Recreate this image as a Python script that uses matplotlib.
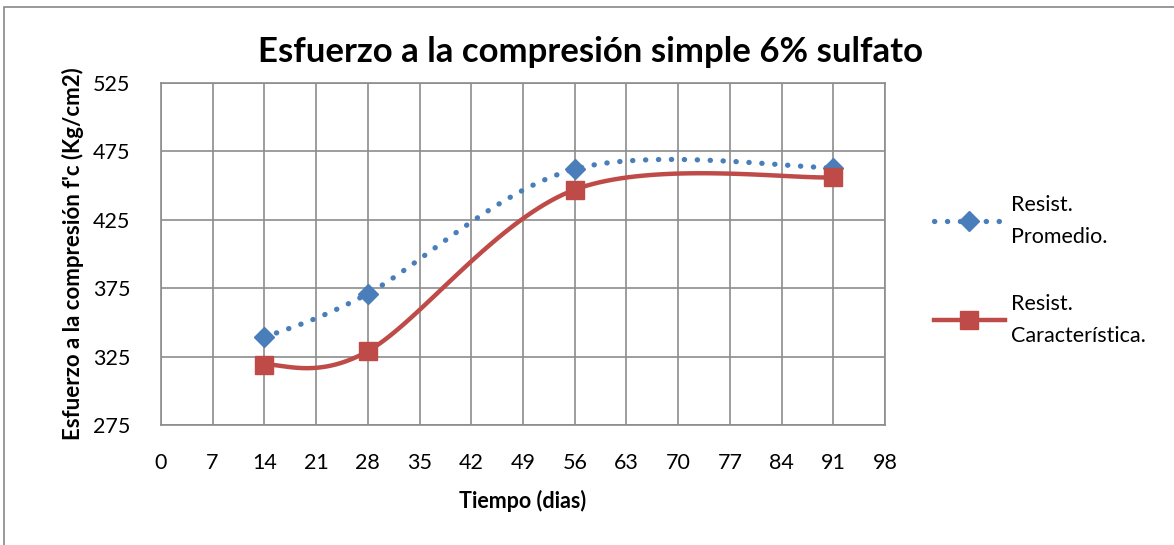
import numpy as np
import matplotlib.pyplot as plt
from matplotlib.patches import Rectangle

plt.rcParams['font.family'] = ['Lato', 'DejaVu Sans']

dias = [14, 28, 56, 91]
promedio = [339, 371, 462, 463]
caracteristica = [319, 329, 447, 456]
xticks = list(range(0, 99, 7))
yticks = [275, 325, 375, 425, 475, 525]


def smooth(xs, ys, n=40):
    # parametric Catmull-Rom, similar to Excel's smoothed lines
    p = np.column_stack([xs, ys]).astype(float)
    p = np.vstack([p[0], p, p[-1]])
    out = []
    for i in range(1, len(p) - 2):
        p0, p1, p2, p3 = p[i - 1], p[i], p[i + 1], p[i + 2]
        c1 = p1 + (p2 - p0) / 6
        c2 = p2 - (p3 - p1) / 6
        t = np.linspace(0, 1, n)[:, None]
        seg = (1 - t) ** 3 * p1 + 3 * (1 - t) ** 2 * t * c1 + 3 * (1 - t) * t ** 2 * c2 + t ** 3 * p2
        out.append(seg)
    out = np.vstack(out)
    return out[:, 0], out[:, 1]


fig = plt.figure(figsize=(11.74, 5.45), dpi=100)
fig.patches.append(Rectangle((0.003, -0.01), 1.1, 0.997, transform=fig.transFigure,
                             fill=False, edgecolor='#888888', lw=1.2))
ax = fig.add_axes([0.137, 0.22, 0.617, 0.628])

blue = '#4A7EBB'
red = '#BE4B48'
dots = (0, (0.05, 2.4))

sx, sy = smooth(dias, promedio)
ax.plot(sx, sy, color=blue, lw=3.8, ls=dots, dash_capstyle='round', zorder=3)
ax.plot(dias, promedio, ls='none', marker='D', ms=10, color=blue, zorder=4)
sx, sy = smooth(dias, caracteristica)
ax.plot(sx, sy, color=red, lw=3.2, zorder=5)
ax.plot(dias, caracteristica, ls='none', marker='s', ms=13, color=red, zorder=6)

# legend proxies
ax.plot([], [], color=blue, lw=3.8, ls=dots, dash_capstyle='round',
        marker='D', ms=10, label='Resist.\nPromedio.')
ax.plot([], [], color=red, lw=3.2, marker='s', ms=13, label='Resist.\nCaracterística.')

ax.set_xlim(0, 98)
ax.set_ylim(275, 525)
ax.set_xticks(xticks)
ax.set_yticks(yticks)
ax.grid(True, color='#8C8C8C', lw=1.2)
ax.set_axisbelow(True)
for s in ax.spines.values():
    s.set_color('#8C8C8C')
    s.set_linewidth(1.2)
ax.tick_params(length=0, labelsize=15.5)
ax.tick_params(axis='x', pad=20)
ax.tick_params(axis='y', pad=22)

fig.text(0.503, 0.905, 'Esfuerzo a la compresión simple 6% sulfato', fontsize=25,
         fontweight='bold', ha='center', va='center')
ax.set_xlabel('Tiempo (dias)', fontsize=15.5, fontweight='bold', labelpad=12)
ax.set_ylabel("Esfuerzo a la compresión f'c (Kg/cm2)", fontsize=16,
              fontweight='bold', labelpad=6)

leg = ax.legend(loc='upper left', bbox_to_anchor=(1.04, 0.73), frameon=False,
                fontsize=15.5, handlelength=3.3, labelspacing=2.2, handletextpad=0.3)
for t in leg.get_texts():
    t.set_linespacing(1.75)

fig.savefig('out.png', dpi=100)
